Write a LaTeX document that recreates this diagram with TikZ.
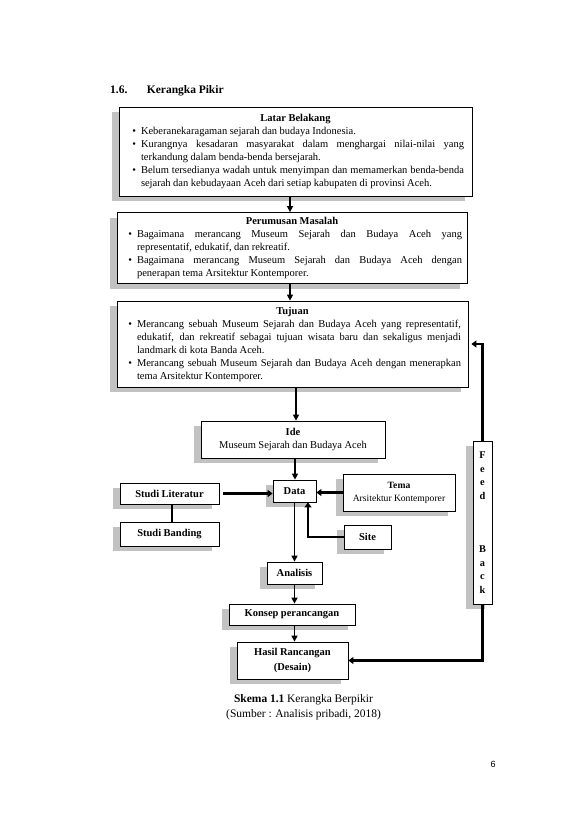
\documentclass[tikz,border=0pt]{standalone}
\usepackage{fontspec}
\setmainfont{Liberation Serif}[WordSpace={0.95,1.3,1.7}]
\newfontfamily\pagenumfont{Liberation Sans}
\usepackage{enumitem}
\usetikzlibrary{arrows.meta,positioning,shadows}
\setlist[itemize]{label=\textbullet,leftmargin=16pt,labelsep=5pt,itemsep=0pt,topsep=0pt,parsep=0pt,partopsep=0pt}
\newcommand{\boxhead}[1]{{\centering\bfseries #1\par}}

\tikzset{
  boxshadow/.style={general shadow={fill=black!24,shadow xshift=-7pt,shadow yshift=-5pt}},
  bigbox/.style={draw,line width=0.8pt,fill=white,boxshadow,inner xsep=4pt,inner ysep=3pt,align=justify},
  smallbox/.style={draw,line width=0.8pt,fill=white,boxshadow,inner sep=2pt,align=center,font=\fontsize{10.5}{13}\selectfont\bfseries},
  arr/.style={-{Triangle[length=6pt,width=6pt]},line width=1.5pt},
  fatarr/.style={-{Triangle[length=5pt,width=7pt]},line width=2.8pt},
}

\begin{document}
\begin{tikzpicture}[x=1pt,y=-1pt,font=\fontsize{10.5}{13}\selectfont]
  \useasboundingbox (0,0) rectangle (579,819);

  % heading
  \node[anchor=base west,inner sep=0pt,font=\fontsize{11.5}{14}\selectfont\bfseries] (secnum) at (110,93) {1.6.};
  \node[base right=19pt of secnum,inner sep=0pt,font=\fontsize{11.5}{14}\selectfont\bfseries] (sectitle) {Kerangka Pikir};

  % top boxes
  \node[bigbox,text width=345pt,minimum height=89pt] (latar) at (295.5,151.5) {\boxhead{Latar Belakang}
    \begin{itemize}[leftmargin=18pt,rightmargin=4pt]
      \item Keberanekaragaman sejarah dan budaya Indonesia.
      \item Kurangnya kesadaran masyarakat dalam menghargai nilai-nilai yang\linebreak terkandung dalam benda-benda bersejarah.
      \item Belum tersedianya wadah untuk menyimpan dan memamerkan benda-benda\linebreak sejarah dan kebudayaan Aceh dari setiap kabupaten di provinsi Aceh.
    \end{itemize}};
  \node[bigbox,text width=342pt,minimum height=71pt] (rumusan) at (292,248) {\boxhead{Perumusan Masalah}
    \begin{itemize}[rightmargin=1pt]
      \item Bagaimana merancang Museum Sejarah dan Budaya Aceh yang\linebreak representatif, edukatif, dan rekreatif.
      \item Bagaimana merancang Museum Sejarah dan Budaya Aceh dengan\linebreak penerapan tema Arsitektur Kontemporer.
    \end{itemize}};
  \node[bigbox,text width=343pt,minimum height=86pt] (tujuan) at (292.5,344) {\boxhead{Tujuan}
    \begin{itemize}[rightmargin=3pt]
      \item Merancang sebuah Museum Sejarah dan Budaya Aceh yang representatif,\linebreak edukatif, dan rekreatif sebagai tujuan wisata baru dan sekaligus menjadi\linebreak landmark di kota Banda Aceh.
      \item Merancang sebuah Museum Sejarah dan Budaya Aceh dengan menerapkan\linebreak tema Arsitektur Kontemporer.
    \end{itemize}};

  % middle boxes
  \node[smallbox,font=\fontsize{10.5}{13}\selectfont,minimum width=184pt,minimum height=37pt] (ide) at (293,439.5) {\textbf{Ide}\\Museum Sejarah dan Budaya Aceh};
  \node[smallbox,minimum width=43pt,minimum height=22pt] (data) at (294.5,491) {Data};
  \node[smallbox,minimum width=99pt,minimum height=21pt] (studilit) at (169.5,493.5) {Studi Literatur};
  \node[smallbox,minimum width=99pt,minimum height=24pt] (studiband) at (169.5,534) {Studi Banding};
  \node[smallbox,font=\fontsize{9.6}{13}\selectfont,minimum width=112pt,minimum height=37pt] (tema) at (399,492.5) {\textbf{Tema}\\Arsitektur Kontemporer};
  \node[smallbox,minimum width=47pt,minimum height=24pt] (site) at (367.5,537) {Site};
  \node[smallbox,minimum width=55pt,minimum height=22pt] (analisis) at (294.5,573) {Analisis};
  \node[smallbox,minimum width=126pt,minimum height=21pt] (konsep) at (292,614.5) {Konsep perancangan};
  \node[smallbox,font=\fontsize{10.5}{15}\selectfont\bfseries,minimum width=111pt,minimum height=37pt] (hasil) at (292.5,660.5) {Hasil Rancangan\\(Desain)};
  \node[smallbox,minimum width=19pt,minimum height=163pt,inner sep=0pt,font=\fontsize{10.3}{13.5}\selectfont\bfseries] (feed) at (482.5,522.5) {F\\e\\e\\d\\[40pt]B\\a\\c\\k};

  % connectors
  \draw[arr] ([xshift=-5.5pt]latar.south) -- ([xshift=-2pt]rumusan.north);
  \draw[arr] ([xshift=-2pt]rumusan.south) -- ([xshift=-2.5pt]tujuan.north);
  \draw[arr] ([xshift=3.5pt]tujuan.south) -- ([xshift=3pt]ide.north);
  \draw[arr] ([xshift=2pt]ide.south) -- ([xshift=0.5pt]data.north);
  \draw[fatarr,shorten <=4pt] (studilit.east) -- (studilit.east -| data.west);
  \draw[fatarr] (tema.west) -- (tema.west -| data.east);
  \draw[fatarr] (site.west) -| ([xshift=13.5pt]data.south);
  \draw[line width=2.8pt] ([xshift=2.5pt]studilit.south) -- ([xshift=2.5pt]studiband.north);
  \draw[arr] (data.south) -- (data.south |- analisis.north);
  \draw[arr] (analisis.south) -- (analisis.south |- konsep.north);
  \draw[arr] ([xshift=2.5pt]konsep.south) -- ([xshift=2.5pt]konsep.south |- hasil.north);
  \draw[fatarr] (feed.south) |- (hasil.east);
  \draw[fatarr,shorten >=3pt] (feed.north) |- (tujuan.east);

  % caption and page number
  \node[align=center,font=\fontsize{11.5}{15}\selectfont] (caption) at (303.5,707.5) {\textbf{Skema 1.1} Kerangka Berpikir\\(Sumber : Analisis pribadi, 2018)};
  \node[font=\pagenumfont\fontsize{9}{11}\selectfont] (pagenum) at (493,764) {6};
\end{tikzpicture}
\end{document}
